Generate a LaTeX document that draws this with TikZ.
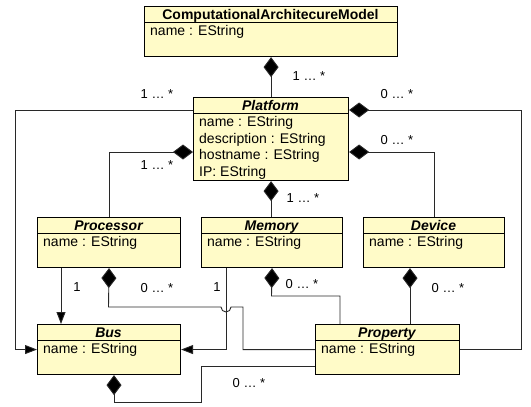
\documentclass[tikz,border=0pt]{standalone}
\usepackage{fontspec}
\setmainfont{Liberation Sans}
\usetikzlibrary{arrows.meta}

\definecolor{classfill}{RGB}{255,251,200}
\definecolor{linkgray}{RGB}{40,40,40}
\newcommand\umlsize{\fontsize{14}{16.5}\selectfont}

\tikzset{
  umlbox/.style={draw=black, line width=1.1pt, fill=classfill, anchor=north west, inner sep=0pt},
  classname/.style={anchor=base, inner sep=0pt, font=\umlsize\bfseries\itshape},
  attrtext/.style={anchor=north west, align=left, inner sep=0pt, font=\umlsize},
  mult/.style={inner sep=0pt, font=\fontsize{13}{15}\selectfont},
  comp/.style={draw=linkgray, line width=0.9pt, arrows={Diamond[length=20pt,width=15pt,fill=black]-}},
  assoc/.style={draw=linkgray, line width=0.9pt, arrows={-Triangle[length=12pt,width=9pt,fill=black]}}
}

\begin{document}
\begin{tikzpicture}[x=1pt, y=-1pt]
\useasboundingbox (0,0) rectangle (531,407);

% Classes
\foreach \id/\x/\y/\w/\h/\title/\attrs in {
    model/144/6/253/50/{\upshape ComputationalArchitecureModel}/{name : EString},
    plat/193/97/155/83/Platform/{name : EString\\description : EString\\hostname : EString\\IP: EString},
    proc/37/217/143/50/Processor/{name : EString},
    mem/201/217/141/50/Memory/{name : EString},
    dev/363/217/141/50/Device/{name : EString},
    bus/37/324/143/50/Bus/{name : EString},
    prop/315/324/144/50/Property/{name : EString}}
{
    \node[umlbox, minimum width=\w pt, minimum height=\h pt] (\id) at (\x,\y) {};
    \draw[line width=1.1pt] (\x,\y+16.5) -- (\x+\w,\y+16.5);
    \node[classname] (\id-name) at (\x+\w/2,\y+13) {\title};
    \node[attrtext] (\id-attr) at (\x+6,\y+19.3) {\attrs};
}

% Composition links
\draw[comp] (model.south) -- (plat.north);
\draw[comp] (plat.east |- 0,110) -- (521,110) |- (prop.east);
\draw[comp] (plat.west |- 0,152) -| (proc.north);
\draw[comp] (plat.east |- 0,152) -| (dev.north);
\draw[comp] (plat.south) -- (plat.south |- mem.north);
\draw[comp] (proc.south) -- (108.5,307) -- (221,307)
    arc[start angle=180, end angle=0, radius=5] -- (243,307) |- (prop.west);
\draw[comp] (mem.south) -- (271.5,296) -| (prop.north -| 340,0);
\draw[comp] (dev.south -| 410,0) -- (prop.north -| 410,0);
\draw[comp] (bus.south -| 114,0) -- (114,402) -| (201,366) -- (prop.west |- 0,366);

% Associations
\draw[assoc] (plat.west |- 0,110) -- (15,110) |- (bus.west);
\draw[assoc] (proc.south -| 61,0) -- (bus.north -| 61,0);
\draw[assoc] (mem.south -| 226,0) |- (bus.east);

% Multiplicities
\foreach \x/\y/\m [count=\i] in {157/94/1 … *, 309/76/1 … *, 397/94/0 … *,
    157/165/1 … *, 397/140/0 … *, 303/198/1 … *,
    77/287/1, 157/288/0 … *, 217/287/1, 302/284/0 … *, 448/288/0 … *, 249/383/0 … *}
    \node[mult] (mult\i) at (\x,\y) {\m};
\end{tikzpicture}
\end{document}
